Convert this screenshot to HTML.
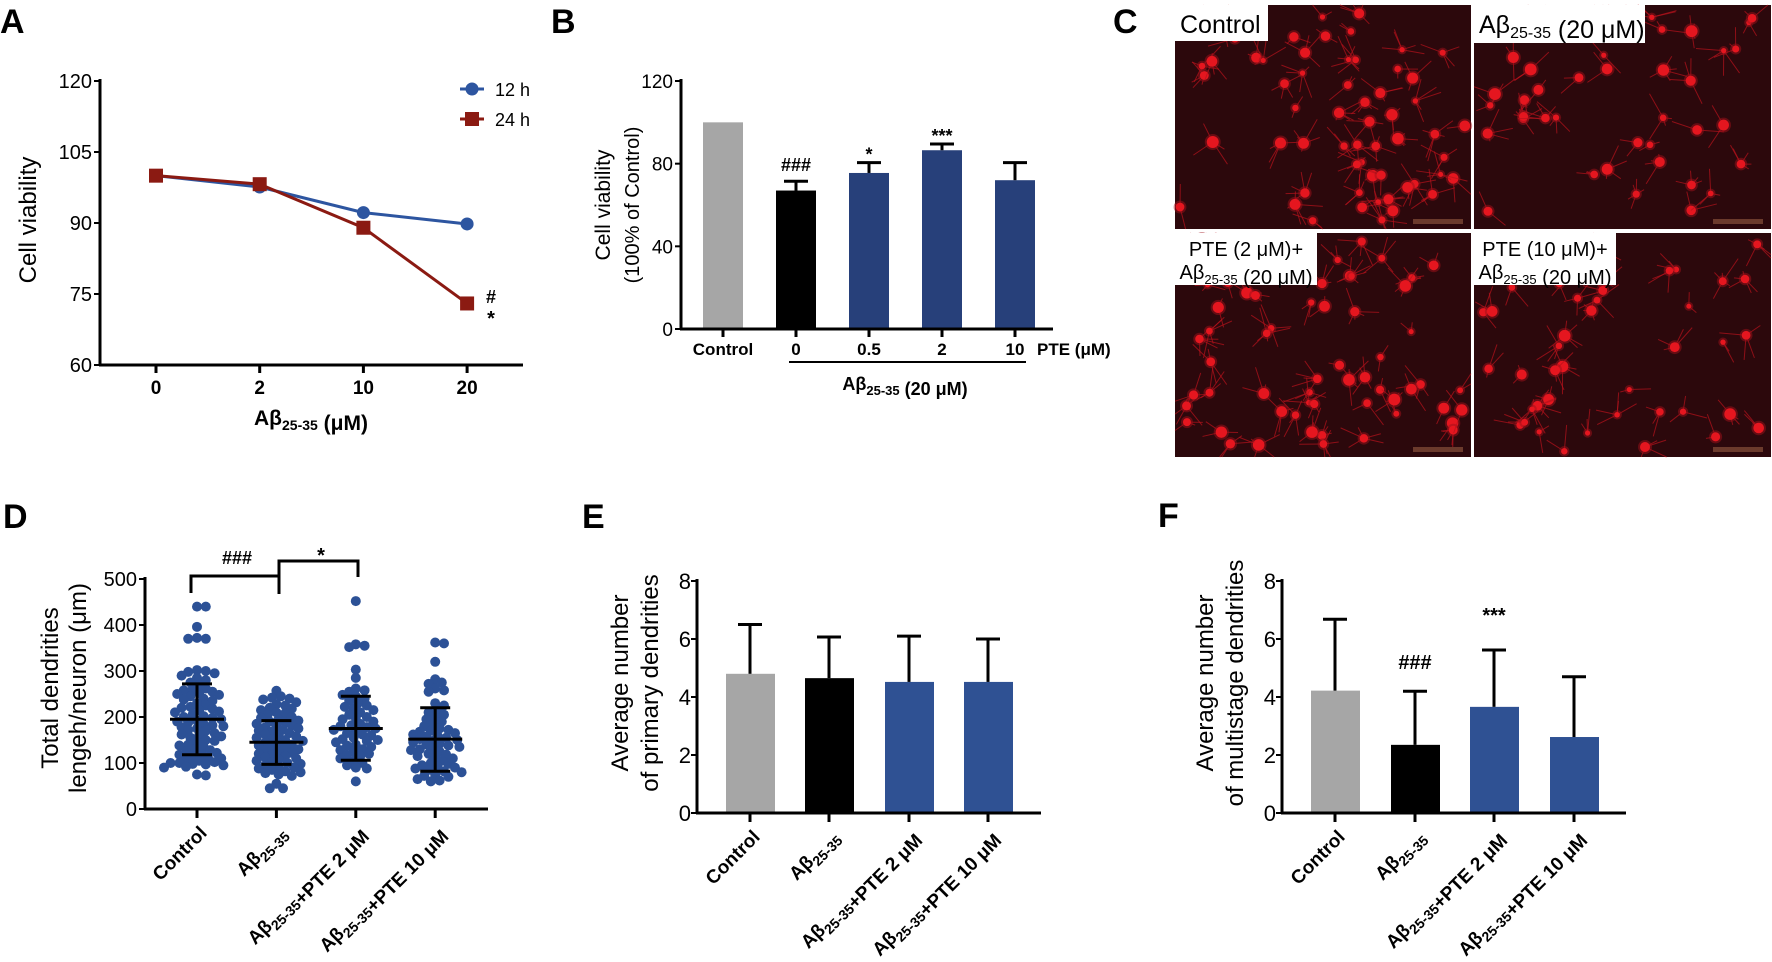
<!DOCTYPE html>
<html><head><meta charset="utf-8">
<style>
html,body{margin:0;padding:0;background:#fff;}
svg{display:block;font-family:"Liberation Sans",Arial,sans-serif;}
</style></head>
<body>
<svg id="fig" width="1772" height="962" viewBox="0 0 1772 962" xmlns="http://www.w3.org/2000/svg">
<rect width="1772" height="962" fill="#fff"/>
</svg>
<script>
// ---------- DATA ----------
const aDoses = ["0","2","10","20"];
const a12h = [100, 97.6, 92.2, 89.8];
const a24h = [100, 98.2, 89.0, 73.0];
const aTicks = [60, 75, 90, 105, 120];

const bCats = ["Control","0","0.5","2","10"];
const bVals = [100, 67, 75.5, 86.5, 72];
const bErr = [0, 4.5, 5, 3, 8.5];
const bSig = ["", "###", "*", "***", ""];
const bTicks = [0, 40, 80, 120];

const dCats = ["Control","Aβ25-35","Aβ25-35+PTE 2 μM","Aβ25-35+PTE  10 μM"];
const dCtrl = [440,440,396,372,370,370,302,300,298,295,290,285,280,275,270,262,260,258,255,252,250,248,245,240,238,235,230,225,222,220,218,215,212,210,205,202,200,198,195,192,190,188,185,182,180,178,175,172,170,165,162,160,158,155,150,148,145,140,138,135,130,128,125,122,120,118,115,112,110,108,105,102,100,100,98,97,95,92,90,75,73];
const dAb = [257,245,242,240,238,232,228,225,220,218,215,210,208,205,200,198,195,192,190,188,185,182,180,178,175,172,170,168,165,162,160,158,155,152,150,148,145,142,140,138,135,132,130,128,125,122,120,118,115,112,110,108,105,102,100,98,95,92,90,88,85,82,80,78,75,72,55,45,45];
const dPte2 = [452,355,352,358,303,285,262,258,255,248,245,240,235,230,225,222,218,215,210,205,200,198,195,190,185,182,180,178,175,172,170,165,162,160,155,152,150,148,145,140,138,135,130,128,125,120,118,115,110,105,100,95,90,88,60];
const dPte10 = [362,360,320,282,275,272,262,258,255,230,225,215,210,205,200,195,190,185,180,175,172,170,168,165,162,160,158,155,152,150,148,145,142,140,138,135,132,130,128,125,120,118,115,112,110,105,100,98,95,92,90,88,85,82,80,75,72,70,65,62,60];
const dMean = [195,145,175,152];
const dSdHi = [272,192,245,220];
const dSdLo = [118,97,106,82];
const dTicks = [0,100,200,300,400,500];

const eVals = [4.8, 4.65, 4.52, 4.52];
const eTop = [6.5, 6.07, 6.1, 6.0];
const fVals = [4.22, 2.35, 3.66, 2.62];
const fTop = [6.68, 4.2, 5.62, 4.7];
const fSig = ["", "###", "***", ""];
const efTicks = [0,2,4,6,8];

// ---------- HELPERS ----------
const NS = "http://www.w3.org/2000/svg";
const svg = document.getElementById("fig");
function el(tag, attrs, parent, name) {
  const e = document.createElementNS(NS, tag);
  for (const k in attrs) e.setAttribute(k, attrs[k]);
  
  
  (parent || svg).appendChild(e);
  return e;
}
function txt(x, y, html, attrs, name, parent) {
  const t = el("text", Object.assign({x: x, y: y}, attrs || {}), parent, name);
  t.innerHTML = html;
  return t;
}
function ab(sz) { return 'Aβ<tspan font-size="' + sz + '" dy="5">25-35</tspan><tspan dy="-5"></tspan>'; }
function catLabel(c) {
  return c.replace("Aβ25-35", ab("14px"));
}
const BLUE = "#2f5193", GRAY = "#a6a6a6", BLK = "#000";

// panel letters
[["A",0,33],["B",551,33],["C",1113,33],["D",3,528],["E",582,528],["F",1158,527]].forEach(p => {
  txt(p[1], p[2], p[0], {"font-size": "34", "font-weight": "bold"}, "panel-label-" + p[0].toLowerCase());
});

// ---------- PANEL A ----------
(function(){
  const g = el("g", {}, svg, "panel-a-line-chart");
  const xs = i => 156 + i * 103.7;
  const ys = v => 365 - (v - 60) * 284 / 60;
  el("line", {x1:100,y1:79,x2:100,y2:366,stroke:"#000","stroke-width":3}, g, "y-axis");
  el("line", {x1:99,y1:365,x2:523,y2:365,stroke:"#000","stroke-width":3}, g, "x-axis");
  aTicks.forEach(v => {
    el("line", {x1:94,y1:ys(v),x2:100,y2:ys(v),stroke:"#000","stroke-width":2}, g, "y-tick");
    txt(92, ys(v) + 7, v, {"font-size":"20","text-anchor":"end"}, "y-tick-label", g);
  });
  aDoses.forEach((d, i) => {
    el("line", {x1:xs(i),y1:365,x2:xs(i),y2:373,stroke:"#000","stroke-width":3}, g, "x-tick");
    txt(xs(i), 394, d, {"font-size":"19","font-weight":"bold","text-anchor":"middle"}, "x-tick-label", g);
  });
  txt(311, 425, ab("14px") + ' (μM)', {"font-size":"21","font-weight":"bold","text-anchor":"middle"}, "x-axis-title", g);
  txt(0, 0, "Cell viability", {"font-size":"24","text-anchor":"middle",transform:"translate(36,220) rotate(-90)"}, "y-axis-title", g);
  const p12 = a12h.map((v,i) => xs(i) + "," + ys(v)).join(" ");
  const p24 = a24h.map((v,i) => xs(i) + "," + ys(v)).join(" ");
  el("polyline", {points:p12, fill:"none", stroke:"#2d55a0","stroke-width":3}, g, "series-12h-line");
  el("polyline", {points:p24, fill:"none", stroke:"#8b1a12","stroke-width":3}, g, "series-24h-line");
  a12h.forEach((v,i) => el("circle", {cx:xs(i),cy:ys(v),r:6.5,fill:"#2d55a0"}, g, "point-12h"));
  a24h.forEach((v,i) => el("rect", {x:xs(i)-7,y:ys(v)-7,width:14,height:14,fill:"#8b1a12"}, g, "point-24h"));
  txt(491, 303, "#", {"font-size":"18","font-weight":"bold","text-anchor":"middle"}, "sig-hash", g);
  txt(491, 325, "*", {"font-size":"20","font-weight":"bold","text-anchor":"middle"}, "sig-star", g);
  el("line", {x1:460,y1:89,x2:484,y2:89,stroke:"#2d55a0","stroke-width":3}, g, "legend-12h-line");
  el("circle", {cx:472,cy:89,r:6.5,fill:"#2d55a0"}, g, "legend-12h-marker");
  txt(495, 96, "12 h", {"font-size":"18"}, "legend-12h-label", g);
  el("line", {x1:460,y1:119,x2:484,y2:119,stroke:"#8b1a12","stroke-width":3}, g, "legend-24h-line");
  el("rect", {x:465,y:112,width:14,height:14,fill:"#8b1a12"}, g, "legend-24h-marker");
  txt(495, 126, "24 h", {"font-size":"18"}, "legend-24h-label", g);
})();

// ---------- PANEL B ----------
(function(){
  const g = el("g", {}, svg, "panel-b-bar-chart");
  const xs = i => 723 + i * 73;
  const ys = v => 329 - v * 248 / 120;
  const cols = [GRAY, BLK, "#27407a", "#27407a", "#27407a"];
  bVals.forEach((v,i) => {
    el("rect", {x:xs(i)-20,y:ys(v),width:40,height:329-ys(v),fill:cols[i]}, g, "bar-" + bCats[i].toLowerCase());
    if (bErr[i] > 0) {
      el("line", {x1:xs(i),y1:ys(v),x2:xs(i),y2:ys(v+bErr[i]),stroke:"#000","stroke-width":3}, g, "error-bar");
      el("line", {x1:xs(i)-12,y1:ys(v+bErr[i]),x2:xs(i)+12,y2:ys(v+bErr[i]),stroke:"#000","stroke-width":3}, g, "error-cap");
    }
    if (bSig[i]) txt(xs(i), ys(v+bErr[i]) - 10 + (bSig[i]==="###"?0:8), bSig[i], {"font-size":"18","font-weight":"bold","text-anchor":"middle"}, "sig-marker", g);
    el("line", {x1:xs(i),y1:329,x2:xs(i),y2:337,stroke:"#000","stroke-width":3}, g, "x-tick");
    txt(xs(i), 355, bCats[i], {"font-size":"17","font-weight":"bold","text-anchor":"middle"}, "x-tick-label", g);
  });
  el("line", {x1:681,y1:79,x2:681,y2:330,stroke:"#000","stroke-width":3}, g, "y-axis");
  el("line", {x1:680,y1:329,x2:1053,y2:329,stroke:"#000","stroke-width":3}, g, "x-axis");
  bTicks.forEach(v => {
    el("line", {x1:675,y1:ys(v),x2:681,y2:ys(v),stroke:"#000","stroke-width":2}, g, "y-tick");
    txt(673, ys(v)+7, v, {"font-size":"19","text-anchor":"end"}, "y-tick-label", g);
  });
  txt(1037, 355, "PTE (μM)", {"font-size":"17","font-weight":"bold"}, "pte-axis-label", g);
  el("line", {x1:789,y1:362,x2:1026,y2:362,stroke:"#000","stroke-width":2}, g, "abeta-group-line");
  txt(905, 390, ab("13px") + " (20 μM)", {"font-size":"18","font-weight":"bold","text-anchor":"middle"}, "abeta-group-label", g);
  txt(0, 0, "Cell viability", {"font-size":"21","text-anchor":"middle",transform:"translate(610,205) rotate(-90)"}, "y-axis-title-line1", g);
  txt(0, 0, "(100% of Control)", {"font-size":"20","text-anchor":"middle",transform:"translate(639,205) rotate(-90)"}, "y-axis-title-line2", g);
})();

// ---------- PANEL C ----------
(function(){
  const g = el("g", {}, svg, "panel-c-micrographs");
  let seed = 7;
  const rnd = () => { seed = (seed * 16807) % 2147483647; return (seed - 1) / 2147483646; };
  const panels = [
    {x:1175,y:5,w:296,h:224,n:60,name:"micrograph-control",lab:"Control",bw:93,bh:36},
    {x:1474,y:5,w:297,h:224,n:42,name:"micrograph-abeta",lab:ab("16px")+" (20 μM)",bw:171,bh:38},
    {x:1175,y:233,w:296,h:224,n:60,name:"micrograph-pte2",lab:"",bw:142,bh:52},
    {x:1474,y:233,w:297,h:224,n:44,name:"micrograph-pte10",lab:"",bw:142,bh:52}
  ];
  panels.forEach((p,pi) => {
    const pg = el("g", {}, g, p.name);
    el("rect", {x:p.x,y:p.y,width:p.w,height:p.h,fill:"#2c080c"}, pg, "micrograph-background");
    for (let k = 0; k < p.n; k++) {
      const cx = p.x + 5 + rnd() * (p.w - 10), cy = p.y + 5 + rnd() * (p.h - 10);
      const nd = 2 + Math.floor(rnd() * 4);
      for (let d = 0; d < nd; d++) {
        const a = rnd() * 6.283, L = 8 + rnd() * 20;
        const ex = Math.min(p.x+p.w, Math.max(p.x, cx + Math.cos(a)*L)), ey = Math.min(p.y+p.h, Math.max(p.y, cy + Math.sin(a)*L));
        el("line", {x1:cx,y1:cy,x2:ex,y2:ey,stroke:"#b8121c","stroke-width":1,opacity:0.7}, pg, "neurite");
      }
      const r = 2.5 + rnd()*3.5;
      el("circle", {cx:cx,cy:cy,r:r+2,fill:"#a0101a",opacity:0.5}, pg, "neuron-glow");
      el("circle", {cx:cx,cy:cy,r:r,fill:"#e5161f"}, pg, "neuron-soma");
    }
    el("rect", {x:p.x+p.w-58,y:p.y+p.h-10,width:50,height:5,fill:"#6b3a2c"}, pg, "scale-bar");
    el("rect", {x:p.x,y:p.y,width:p.bw,height:p.bh,fill:"#fff"}, pg, "label-box");
    if (pi < 2) {
      txt(p.x+5, p.y+28, p.lab, {"font-size":"25"}, "micrograph-label", pg);
    } else {
      txt(p.x+p.bw/2, p.y+23, pi===2 ? "PTE (2 μM)+" : "PTE (10 μM)+", {"font-size":"20","text-anchor":"middle"}, "micrograph-label-line1", pg);
      txt(p.x+p.bw/2, p.y+46, ab("13px") + " (20 μM)", {"font-size":"20","text-anchor":"middle"}, "micrograph-label-line2", pg);
    }
  });
})();

// ---------- PANEL D ----------
(function(){
  const g = el("g", {}, svg, "panel-d-scatter");
  const xs = i => 197 + i * 79.4;
  const ys = v => 809 - v * 0.46;
  const groups = [dCtrl, dAb, dPte2, dPte10];
  const R = 5;
  groups.forEach((vals, gi) => {
    const placed = [];
    const sorted = vals.slice().sort((a,b) => b - a);
    sorted.forEach(v => {
      const y = ys(v);
      let off = 0;
      for (let s = 0; s < 40; s++) {
        const cand = s === 0 ? 0 : (s % 2 ? 1 : -1) * Math.ceil(s/2) * 2.2;
        const ok = placed.every(p => (p[0]-cand)*(p[0]-cand) + (p[1]-y)*(p[1]-y) >= (2*R-3)*(2*R-3));
        if (ok) { off = cand; break; }
      }
      placed.push([off, y]);
      el("circle", {cx:xs(gi)+off, cy:y, r:R, fill:"#2c5196"}, g, "data-point");
    });
    el("line", {x1:xs(gi)-27,y1:ys(dMean[gi]),x2:xs(gi)+27,y2:ys(dMean[gi]),stroke:"#000","stroke-width":3}, g, "mean-line");
    el("line", {x1:xs(gi),y1:ys(dSdHi[gi]),x2:xs(gi),y2:ys(dSdLo[gi]),stroke:"#000","stroke-width":3}, g, "sd-line");
    el("line", {x1:xs(gi)-15,y1:ys(dSdHi[gi]),x2:xs(gi)+15,y2:ys(dSdHi[gi]),stroke:"#000","stroke-width":3}, g, "sd-cap");
    el("line", {x1:xs(gi)-15,y1:ys(dSdLo[gi]),x2:xs(gi)+15,y2:ys(dSdLo[gi]),stroke:"#000","stroke-width":3}, g, "sd-cap");
    el("line", {x1:xs(gi),y1:809,x2:xs(gi),y2:818,stroke:"#000","stroke-width":3}, g, "x-tick");
    txt(0, 0, catLabel(dCats[gi]), {"font-size":"19","font-weight":"bold","text-anchor":"end",transform:"translate(" + (xs(gi)+11) + ",834) rotate(-45)"}, "x-tick-label", g);
  });
  el("line", {x1:145,y1:577,x2:145,y2:810,stroke:"#000","stroke-width":3}, g, "y-axis");
  el("line", {x1:144,y1:809,x2:488,y2:809,stroke:"#000","stroke-width":3}, g, "x-axis");
  dTicks.forEach(v => {
    el("line", {x1:139,y1:ys(v),x2:145,y2:ys(v),stroke:"#000","stroke-width":2}, g, "y-tick");
    txt(137, ys(v)+7, v, {"font-size":"20","text-anchor":"end"}, "y-tick-label", g);
  });
  txt(0, 0, "Total dendrities", {"font-size":"24","text-anchor":"middle",transform:"translate(58,688) rotate(-90)"}, "y-axis-title-line1", g);
  txt(0, 0, "lengeh/neuron (μm)", {"font-size":"24","text-anchor":"middle",transform:"translate(86,688) rotate(-90)"}, "y-axis-title-line2", g);
  el("polyline", {points:"191,593 191,576 279,576 279,594", fill:"none", stroke:"#000","stroke-width":3}, g, "sig-bracket-1");
  el("polyline", {points:"279,576 279,561 358,561 358,577", fill:"none", stroke:"#000","stroke-width":3}, g, "sig-bracket-2");
  txt(237, 564, "###", {"font-size":"18","font-weight":"bold","text-anchor":"middle"}, "sig-hash", g);
  txt(321, 562, "*", {"font-size":"20","font-weight":"bold","text-anchor":"middle"}, "sig-star", g);
})();

// ---------- PANELS E & F ----------
function barPanel(name, x0, xEnd, centers, vals, tops, sig, t1, t2, tx1, tx2) {
  const g = el("g", {}, svg, name);
  const ys = v => 813 - v * 29;
  const cols = [GRAY, BLK, BLUE, BLUE];
  vals.forEach((v,i) => {
    el("rect", {x:centers[i]-24,y:ys(v),width:49,height:813-ys(v),fill:cols[i]}, g, "bar");
    el("line", {x1:centers[i],y1:ys(v),x2:centers[i],y2:ys(tops[i]),stroke:"#000","stroke-width":3}, g, "error-bar");
    el("line", {x1:centers[i]-12,y1:ys(tops[i]),x2:centers[i]+12,y2:ys(tops[i]),stroke:"#000","stroke-width":3}, g, "error-cap");
    if (sig && sig[i]) txt(centers[i], ys(tops[i]) - (sig[i]==="###"?22:28), sig[i], {"font-size":"20","font-weight":"bold","text-anchor":"middle"}, "sig-marker", g);
    el("line", {x1:centers[i],y1:813,x2:centers[i],y2:822,stroke:"#000","stroke-width":3}, g, "x-tick");
    txt(0, 0, catLabel(dCats[i]), {"font-size":"19","font-weight":"bold","text-anchor":"end",transform:"translate(" + (centers[i]+11) + ",838) rotate(-45)"}, "x-tick-label", g);
  });
  el("line", {x1:x0,y1:579,x2:x0,y2:814,stroke:"#000","stroke-width":3}, g, "y-axis");
  el("line", {x1:x0-1,y1:813,x2:xEnd,y2:813,stroke:"#000","stroke-width":3}, g, "x-axis");
  efTicks.forEach(v => {
    el("line", {x1:x0-6,y1:ys(v),x2:x0,y2:ys(v),stroke:"#000","stroke-width":2}, g, "y-tick");
    txt(x0-6, ys(v)+8, v, {"font-size":"22","text-anchor":"end"}, "y-tick-label", g);
  });
  txt(0, 0, t1, {"font-size":"24","text-anchor":"middle",transform:"translate(" + tx1 + ",683) rotate(-90)"}, "y-axis-title-line1", g);
  txt(0, 0, t2, {"font-size":"24","text-anchor":"middle",transform:"translate(" + tx2 + ",683) rotate(-90)"}, "y-axis-title-line2", g);
}
barPanel("panel-e-bar-chart", 697, 1041, [750,829,909,988], eVals, eTop, null, "Average number", "of primary dendrities", 628, 658);
barPanel("panel-f-bar-chart", 1282, 1626, [1335,1415,1494,1574], fVals, fTop, fSig, "Average number", "of multistage dendrities", 1213, 1243);
</script>
</body></html>
